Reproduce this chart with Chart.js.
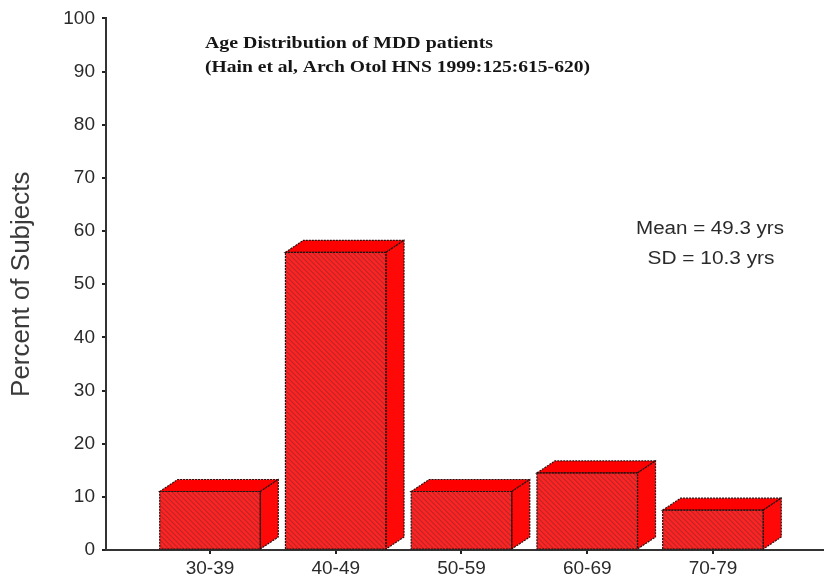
<!DOCTYPE html>
<html><head><meta charset="utf-8">
<script src="https://cdn.jsdelivr.net/npm/chart.js@4/dist/chart.umd.min.js"></script>
<style>html,body{margin:0;padding:0;background:#fff;overflow:hidden}#wrap{width:824px;height:580px;position:relative}canvas{display:block}</style>
</head><body><div id="wrap"><canvas id="c" width="824" height="580" style="width:824px;height:580px"></canvas></div>
<script>
const categories = ['30-39', '40-49', '50-59', '60-69', '70-79'];
const percentValues = [11, 56, 11, 14.5, 7.5];
const yTickValues = [0, 10, 20, 30, 40, 50, 60, 70, 80, 90, 100];
const titleLines = ['Age Distribution of MDD patients', '(Hain et al, Arch Otol HNS 1999:125:615-620)'];
const statLines = ['Mean = 49.3 yrs', 'SD = 10.3 yrs'];

const canvas = document.getElementById('c');
const ctx = canvas.getContext('2d');

function makeHatch() {
  const p = document.createElement('canvas');
  p.width = 5; p.height = 5;
  const g = p.getContext('2d');
  g.fillStyle = '#ff2424';
  g.fillRect(0, 0, 5, 5);
  g.strokeStyle = 'rgba(140,40,40,0.6)';
  g.lineWidth = 1.2;
  g.beginPath();
  g.moveTo(-1, -1); g.lineTo(6, 6);
  g.moveTo(-1, 4); g.lineTo(1, 6);
  g.moveTo(4, -1); g.lineTo(6, 1);
  g.stroke();
  return ctx.createPattern(p, 'repeat');
}

const DX = 18, DY = 12;

const threeD = {
  id: 'threeD',
  afterDatasetsDraw(chart) {
    const c = chart.ctx;
    const meta = chart.getDatasetMeta(0);
    c.save();
    meta.data.forEach(bar => {
      const p = bar.getProps(['x', 'y', 'base', 'width'], true);
      const l = p.x - p.width / 2, r = p.x + p.width / 2, t = p.y, b = p.base;
      c.setLineDash([2, 1]);
      c.lineWidth = 1.2;
      c.strokeStyle = '#2a1010';
      c.beginPath();
      c.moveTo(l, t); c.lineTo(l + DX, t - DY); c.lineTo(r + DX, t - DY); c.lineTo(r, t); c.closePath();
      c.fillStyle = '#ff0000'; c.fill(); c.stroke();
      c.beginPath();
      c.moveTo(r, t); c.lineTo(r + DX, t - DY); c.lineTo(r + DX, b - DY); c.lineTo(r, b); c.closePath();
      c.fillStyle = '#ff0808'; c.fill(); c.stroke();
      c.strokeRect(l, t, r - l, b - t);
    });
    c.restore();
  }
};

function drawFitText(c, text, cx, cy, font, targetW, align) {
  c.save();
  c.font = font;
  const w = c.measureText(text).width;
  const s = targetW / w;
  c.textBaseline = 'middle';
  c.textAlign = 'left';
  const left = align === 'center' ? cx - targetW / 2 : cx;
  c.translate(left, cy);
  c.scale(s, 1);
  c.fillText(text, 0, 0);
  c.restore();
}

const annotations = {
  id: 'annotations',
  afterDraw(chart) {
    const c = chart.ctx;
    c.fillStyle = '#151515';
    drawFitText(c, titleLines[0], 205, 44, 'bold 16px "Liberation Serif"', 288, 'left');
    drawFitText(c, titleLines[1], 205, 68, 'bold 16px "Liberation Serif"', 385, 'left');
    c.fillStyle = '#2a2a2a';
    drawFitText(c, statLines[0], 710, 229, '18px "Liberation Sans"', 148, 'center');
    drawFitText(c, statLines[1], 711, 259, '18px "Liberation Sans"', 127, 'center');
  }
};

new Chart(canvas, {
  type: 'bar',
  data: {
    datasets: [{
      data: categories.map((cat, i) => ({ x: i, y: percentValues[i] })),
      backgroundColor: makeHatch(),
      borderWidth: 0,
      categoryPercentage: 0.8,
      barPercentage: 1.0
    }]
  },
  options: {
    responsive: false,
    animation: false,
    events: [],
    devicePixelRatio: 1,
    layout: { padding: { top: 18, right: 0, left: 0, bottom: 0 } },
    plugins: { legend: { display: false }, tooltip: { enabled: false }, title: { display: false } },
    scales: {
      x: {
        type: 'linear',
        min: -0.827,
        max: 4.883,
        offset: false,
        afterBuildTicks: s => { s.ticks = categories.map((_, i) => ({ value: i })); },
        afterFit: s => { s.height = 30; },
        ticks: {
          callback: v => categories[v],
          font: { family: '"Liberation Sans"', size: 19 },
          color: '#2a2a2a',
          padding: 3,
          maxRotation: 0,
          autoSkip: false
        },
        grid: { display: true, offset: false, drawOnChartArea: false, drawTicks: true, tickLength: 4, color: '#222', lineWidth: 2 },
        border: { display: true, color: '#333', width: 2 }
      },
      y: {
        min: 0,
        max: 100,
        afterBuildTicks: s => { s.ticks = yTickValues.map(v => ({ value: v })); },
        afterFit: s => { s.width = 106; },
        ticks: {
          font: { family: '"Liberation Sans"', size: 19 },
          color: '#2a2a2a',
          padding: 7
        },
        title: {
          display: true,
          text: 'Percent of Subjects',
          font: { family: '"Liberation Sans"', size: 26 },
          color: '#3a3a3a',
          padding: { top: 6, bottom: 0 }
        },
        grid: { display: true, offset: false, drawOnChartArea: false, drawTicks: true, tickLength: 4, color: '#222', lineWidth: 2 },
        border: { display: true, color: '#333', width: 2 }
      }
    }
  },
  plugins: [threeD, annotations]
});
</script>
</body></html>
